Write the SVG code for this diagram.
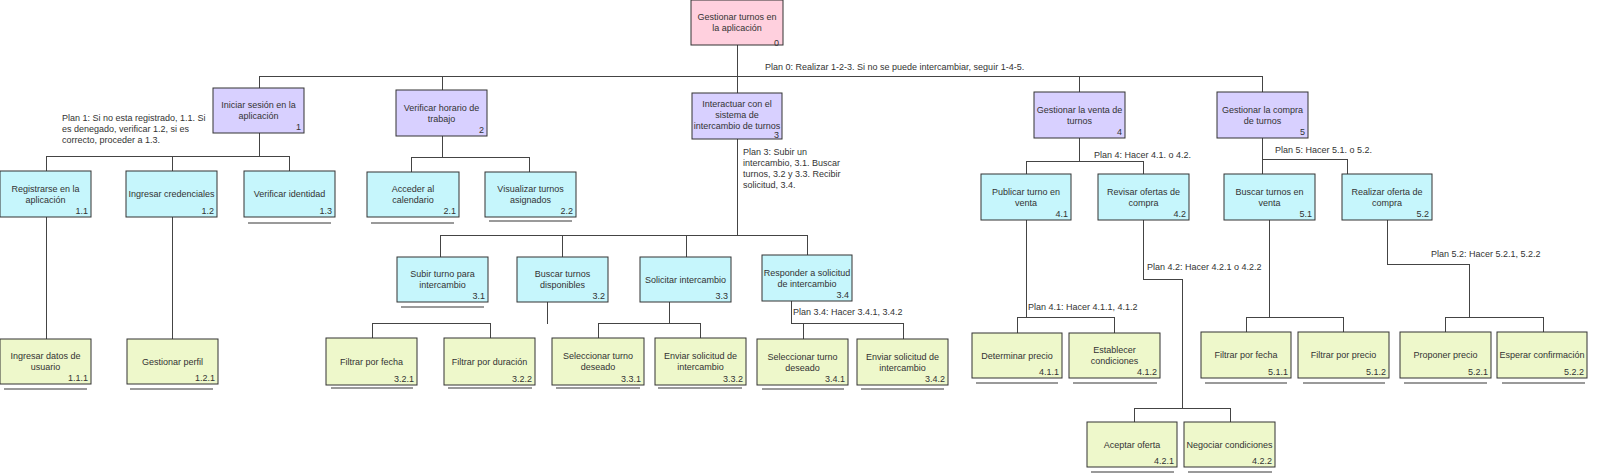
<svg xmlns="http://www.w3.org/2000/svg" width="1600" height="475" viewBox="0 0 1600 475">
<style>
text{font-family:"Liberation Sans",Arial,sans-serif;font-size:9px;fill:#333}
.t{text-anchor:middle}
.n{text-anchor:end}
.box{stroke:#333;stroke-width:1}
.root{fill:#FFD0DE}
.l1{fill:#D8D0FF}
.l2{fill:#C6F6FC}
.lf{fill:#EEF8CB}
.ul{stroke:#7a7a7a;stroke-width:1.5}
#connectors path{fill:none;stroke:#444;stroke-width:1}
</style>
<rect width="1600" height="475" fill="#fff"/>
<g id="connectors" shape-rendering="crispEdges">
<path d="M737.5 45V93M259.5 76.5H1262.5M259.5 76V88M442.5 76V90M1079.5 76V92M1262.5 76V92"/>
<path d="M259.5 133V156.5M46.5 156.5H289.5M46.5 156V171M172.5 156V171M289.5 156V171M46.5 217V339M172.5 217V339"/>
<path d="M442.5 136V157.5M411.5 157.5H529.5M411.5 157V172M529.5 157V172"/>
<path d="M737.5 139V235.5M440.5 235.5H807.5M440.5 235V257M562.5 235V257M686.5 235V257M807.5 235V255"/>
<path d="M547.5 302V323.5M372.5 323.5H490.5M372.5 323V338M490.5 323V338"/>
<path d="M669.5 302V323.5M598.5 323.5H700.5M598.5 323V338M700.5 323V338"/>
<path d="M791.5 301V323.5H903.5V339M803.5 323V339"/>
<path d="M1079.5 138V161.5M1026.5 161.5H1143.5M1026.5 161V174M1143.5 161V174"/>
<path d="M1026.5 220V317.5M1017.5 317.5H1114.5M1017.5 317V333M1114.5 317V333"/>
<path d="M1143.5 220V279.5H1182.5V408.5M1134.5 408.5H1230.5M1134.5 408V422M1230.5 408V422"/>
<path d="M1262.5 138V174M1262.5 159.5H1347.5V174"/>
<path d="M1269.5 220V317.5M1246.5 317.5H1343.5M1246.5 317V332M1343.5 317V332"/>
<path d="M1387.5 220V264.5H1469.5V317.5M1445.5 317.5H1543.5M1445.5 317V332M1543.5 317V332"/>
</g>
<g id="underlines">
<path class="ul" d="M248 223H331M371 223H454M489 221H572M401 307H484M4 389H87M130 389H213M331 388H413M448 388H532M556 388H640M658 388H742M762 389H844M861 389H944M976 383H1058M1073 383H1157M1091 472H1174M1188 472H1272M1205 383H1287M1303 383H1385M1404 383H1487M1502 383H1585"/>
</g>
<g id="plans">
<text x="765" y="70">Plan 0: Realizar 1-2-3. Si no se puede intercambiar, seguir 1-4-5.</text>
<text x="62" y="121">Plan 1: Si no esta registrado, 1.1. Si</text>
<text x="62" y="132">es denegado, verificar 1.2, si es</text>
<text x="62" y="143">correcto, proceder a 1.3.</text>
<text x="743" y="155">Plan 3: Subir un</text>
<text x="743" y="166">intercambio, 3.1. Buscar</text>
<text x="743" y="177">turnos, 3.2 y 3.3. Recibir</text>
<text x="743" y="188">solicitud, 3.4.</text>
<text x="1094" y="158">Plan 4: Hacer 4.1. o 4.2.</text>
<text x="1275" y="153">Plan 5: Hacer 5.1. o 5.2.</text>
<text x="793" y="315">Plan 3.4: Hacer 3.4.1, 3.4.2</text>
<text x="1028" y="310">Plan 4.1: Hacer 4.1.1, 4.1.2</text>
<text x="1147" y="270">Plan 4.2: Hacer 4.2.1 o 4.2.2</text>
<text x="1431" y="257">Plan 5.2: Hacer 5.2.1, 5.2.2</text>
</g>
<g id="n0"><rect class="box root" x="691" y="0" width="92" height="45"/><text class="t" x="737" y="20">Gestionar turnos en</text><text class="t" x="737" y="31">la aplicación</text><text class="n" x="779" y="46">0</text></g>
<g id="n1"><rect class="box l1" x="213" y="88" width="91" height="45"/><text class="t" x="258.5" y="108">Iniciar sesión en la</text><text class="t" x="258.5" y="119">aplicación</text><text class="n" x="301" y="130">1</text></g>
<g id="n2"><rect class="box l1" x="396" y="90" width="91" height="46"/><text class="t" x="441.5" y="110.5">Verificar horario de</text><text class="t" x="441.5" y="121.5">trabajo</text><text class="n" x="484" y="133">2</text></g>
<g id="n3"><rect class="box l1" x="692" y="93" width="90" height="46"/><text class="t" x="737" y="106.5">Interactuar con el</text><text class="t" x="737" y="117.5">sistema de</text><text class="t" x="737" y="128.5">intercambio de turnos</text><text class="n" x="779" y="138">3</text></g>
<g id="n4"><rect class="box l1" x="1034" y="92" width="91" height="46"/><text class="t" x="1079.5" y="112.5">Gestionar la venta de</text><text class="t" x="1079.5" y="123.5">turnos</text><text class="n" x="1122" y="135">4</text></g>
<g id="n5"><rect class="box l1" x="1217" y="92" width="91" height="46"/><text class="t" x="1262.5" y="112.5">Gestionar la compra</text><text class="t" x="1262.5" y="123.5">de turnos</text><text class="n" x="1305" y="135">5</text></g>
<g id="n1-1"><rect class="box l2" x="0" y="171" width="91" height="46"/><text class="t" x="45.5" y="191.5">Registrarse en la</text><text class="t" x="45.5" y="202.5">aplicación</text><text class="n" x="88" y="214">1.1</text></g>
<g id="n1-2"><rect class="box l2" x="126" y="171" width="91" height="46"/><text class="t" x="171.5" y="197">Ingresar credenciales</text><text class="n" x="214" y="214">1.2</text></g>
<g id="n1-3"><rect class="box l2" x="244" y="171" width="91" height="46"/><text class="t" x="289.5" y="197">Verificar identidad</text><text class="n" x="332" y="214">1.3</text></g>
<g id="n2-1"><rect class="box l2" x="367" y="172" width="92" height="45"/><text class="t" x="413" y="192">Acceder al</text><text class="t" x="413" y="203">calendario</text><text class="n" x="456" y="214">2.1</text></g>
<g id="n2-2"><rect class="box l2" x="485" y="172" width="91" height="45"/><text class="t" x="530.5" y="192">Visualizar turnos</text><text class="t" x="530.5" y="203">asignados</text><text class="n" x="573" y="214">2.2</text></g>
<g id="n3-1"><rect class="box l2" x="397" y="257" width="91" height="45"/><text class="t" x="442.5" y="277">Subir turno para</text><text class="t" x="442.5" y="288">intercambio</text><text class="n" x="485" y="299">3.1</text></g>
<g id="n3-2"><rect class="box l2" x="517" y="257" width="91" height="45"/><text class="t" x="562.5" y="277">Buscar turnos</text><text class="t" x="562.5" y="288">disponibles</text><text class="n" x="605" y="299">3.2</text></g>
<g id="n3-3"><rect class="box l2" x="640" y="257" width="91" height="45"/><text class="t" x="685.5" y="282.5">Solicitar intercambio</text><text class="n" x="728" y="299">3.3</text></g>
<g id="n3-4"><rect class="box l2" x="762" y="255" width="90" height="46"/><text class="t" x="807" y="275.5">Responder a solicitud</text><text class="t" x="807" y="286.5">de intercambio</text><text class="n" x="849" y="298">3.4</text></g>
<g id="n4-1"><rect class="box l2" x="981" y="174" width="90" height="46"/><text class="t" x="1026" y="194.5">Publicar turno en</text><text class="t" x="1026" y="205.5">venta</text><text class="n" x="1068" y="217">4.1</text></g>
<g id="n4-2"><rect class="box l2" x="1098" y="174" width="91" height="46"/><text class="t" x="1143.5" y="194.5">Revisar ofertas de</text><text class="t" x="1143.5" y="205.5">compra</text><text class="n" x="1186" y="217">4.2</text></g>
<g id="n5-1"><rect class="box l2" x="1224" y="174" width="91" height="46"/><text class="t" x="1269.5" y="194.5">Buscar turnos en</text><text class="t" x="1269.5" y="205.5">venta</text><text class="n" x="1312" y="217">5.1</text></g>
<g id="n5-2"><rect class="box l2" x="1342" y="174" width="90" height="46"/><text class="t" x="1387" y="194.5">Realizar oferta de</text><text class="t" x="1387" y="205.5">compra</text><text class="n" x="1429" y="217">5.2</text></g>
<g id="n1-1-1"><rect class="box lf" x="0" y="339" width="91" height="45"/><text class="t" x="45.5" y="359">Ingresar datos de</text><text class="t" x="45.5" y="370">usuario</text><text class="n" x="88" y="381">1.1.1</text></g>
<g id="n1-2-1"><rect class="box lf" x="127" y="339" width="91" height="45"/><text class="t" x="172.5" y="364.5">Gestionar perfil</text><text class="n" x="215" y="381">1.2.1</text></g>
<g id="n3-2-1"><rect class="box lf" x="326" y="338" width="91" height="47"/><text class="t" x="371.5" y="364.5">Filtrar por fecha</text><text class="n" x="414" y="382">3.2.1</text></g>
<g id="n3-2-2"><rect class="box lf" x="444" y="338" width="91" height="47"/><text class="t" x="489.5" y="364.5">Filtrar por duración</text><text class="n" x="532" y="382">3.2.2</text></g>
<g id="n3-3-1"><rect class="box lf" x="552" y="338" width="92" height="47"/><text class="t" x="598" y="359">Seleccionar turno</text><text class="t" x="598" y="370">deseado</text><text class="n" x="641" y="382">3.3.1</text></g>
<g id="n3-3-2"><rect class="box lf" x="655" y="338" width="91" height="47"/><text class="t" x="700.5" y="359">Enviar solicitud de</text><text class="t" x="700.5" y="370">intercambio</text><text class="n" x="743" y="382">3.3.2</text></g>
<g id="n3-4-1"><rect class="box lf" x="757" y="339" width="91" height="46"/><text class="t" x="802.5" y="359.5">Seleccionar turno</text><text class="t" x="802.5" y="370.5">deseado</text><text class="n" x="845" y="382">3.4.1</text></g>
<g id="n3-4-2"><rect class="box lf" x="857" y="339" width="91" height="46"/><text class="t" x="902.5" y="359.5">Enviar solicitud de</text><text class="t" x="902.5" y="370.5">intercambio</text><text class="n" x="945" y="382">3.4.2</text></g>
<g id="n4-1-1"><rect class="box lf" x="972" y="333" width="90" height="45"/><text class="t" x="1017" y="358.5">Determinar precio</text><text class="n" x="1059" y="375">4.1.1</text></g>
<g id="n4-1-2"><rect class="box lf" x="1069" y="333" width="91" height="45"/><text class="t" x="1114.5" y="353">Establecer</text><text class="t" x="1114.5" y="364">condiciones</text><text class="n" x="1157" y="375">4.1.2</text></g>
<g id="n4-2-1"><rect class="box lf" x="1087" y="422" width="90" height="45"/><text class="t" x="1132" y="447.5">Aceptar oferta</text><text class="n" x="1174" y="464">4.2.1</text></g>
<g id="n4-2-2"><rect class="box lf" x="1184" y="422" width="91" height="45"/><text class="t" x="1229.5" y="447.5">Negociar condiciones</text><text class="n" x="1272" y="464">4.2.2</text></g>
<g id="n5-1-1"><rect class="box lf" x="1201" y="332" width="90" height="46"/><text class="t" x="1246" y="358">Filtrar por fecha</text><text class="n" x="1288" y="375">5.1.1</text></g>
<g id="n5-1-2"><rect class="box lf" x="1298" y="332" width="91" height="46"/><text class="t" x="1343.5" y="358">Filtrar por precio</text><text class="n" x="1386" y="375">5.1.2</text></g>
<g id="n5-2-1"><rect class="box lf" x="1400" y="332" width="91" height="46"/><text class="t" x="1445.5" y="358">Proponer precio</text><text class="n" x="1488" y="375">5.2.1</text></g>
<g id="n5-2-2"><rect class="box lf" x="1497" y="332" width="90" height="46"/><text class="t" x="1542" y="358">Esperar confirmación</text><text class="n" x="1584" y="375">5.2.2</text></g>
</svg>
